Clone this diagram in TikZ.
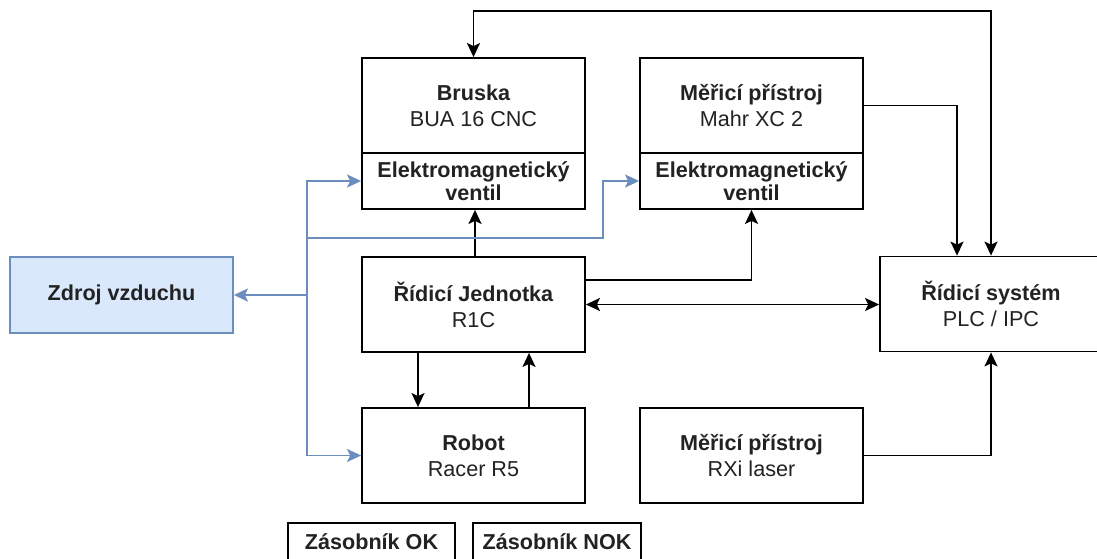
\documentclass[tikz,border=0pt]{standalone}
\usepackage{fontspec}
\setmainfont{Liberation Sans}
\usetikzlibrary{arrows.meta,calc}
\definecolor{airfill}{HTML}{DAE8FC}
\definecolor{airline}{HTML}{6C8EBF}
\definecolor{txt}{HTML}{222222}
\begin{document}
\begin{tikzpicture}[x=1pt,y=-1pt,
  box/.style={draw=black,line width=1.8pt,fill=white,rectangle,inner sep=0pt,align=center,
    text=txt,font=\fontsize{21.6}{26}\selectfont},
  valvebox/.style={box,font=\fontsize{21.6}{23.5}\selectfont},
  airbox/.style={box,draw=airline,fill=airfill},
  conn/.style={line width=1.8pt,draw=black,-{Stealth[length=14pt,width=13pt,inset=3pt]}},
  biconn/.style={line width=1.8pt,draw=black,{Stealth[length=14pt,width=13pt,inset=3pt]}-{Stealth[length=14pt,width=13pt,inset=3pt]}},
  airconn/.style={line width=1.8pt,draw=airline,-{Stealth[length=14pt,width=13pt,inset=3pt]}}
]
\useasboundingbox (0,0) rectangle (1097,559);
\clip (0,0) rectangle (1097,559);
\fill[white] (0,0) rectangle (1097,559);

% nodes
\node[airbox,minimum width=223pt,minimum height=76pt] (zdroj) at (121.5,295) {\textbf{Zdroj vzduchu}};
\node[box,minimum width=223pt,minimum height=95pt] (bruska) at (473.5,105.5) {\textbf{Bruska}\\BUA 16 CNC};
\node[valvebox,minimum width=223pt,minimum height=56pt] (bv) at (473.5,181) {\textbf{Elektromagnetický}\\\textbf{ventil}};
\node[box,minimum width=223pt,minimum height=95pt] (mer) at (751.5,105.5) {\textbf{Měřicí přístroj}\\Mahr XC 2};
\node[valvebox,minimum width=223pt,minimum height=56pt] (mv) at (751.5,181) {\textbf{Elektromagnetický}\\\textbf{ventil}};
\node[box,minimum width=223pt,minimum height=95pt] (rj) at (473.5,304.5) {\textbf{Řídicí Jednotka}\\R1C};
\node[box,minimum width=223pt,minimum height=95pt] (robot) at (473.5,455.5) {\textbf{Robot}\\Racer R5};
\node[box,minimum width=223pt,minimum height=95pt] (rxi) at (751.5,455.5) {\textbf{Měřicí přístroj}\\RXi laser};
\node[box,minimum width=222pt,minimum height=95pt] (rs) at (991,304) {\textbf{Řídicí systém}\\PLC / IPC};
\node[box,minimum width=167pt,minimum height=38pt] (zok) at (371.5,542) {\textbf{Zásobník OK}};
\node[box,minimum width=168pt,minimum height=38pt] (znok) at (557,542) {\textbf{Zásobník NOK}};

% helper coordinates
\coordinate (topy) at (0,11);
\coordinate (j) at (307,295);
\coordinate (k) at (307,238);
\coordinate (k2) at (603,238);

% black connectors
\draw[biconn] (bruska.north) -- (bruska.north |- topy) -- (rs.north |- topy) -- (rs.north);
\draw[conn] (mer.east) -| ([xshift=-34pt]rs.north);
\draw[conn] ([xshift=1.5pt]rj.north) -- ([xshift=1.5pt]bv.south);
\draw[conn] ([yshift=24.5pt]rj.east) -| (mv.south);
\draw[biconn] (rj.east) -- (rj.east -| rs.west);
\draw[conn] ([xshift=-55.5pt]rj.south) -- ([xshift=-55.5pt]robot.north);
\draw[conn] ([xshift=55.5pt]robot.north) -- ([xshift=55.5pt]rj.south);
\draw[conn] (rxi.east) -| (rs.south);

% air connectors
\draw[airconn] (j) -- (zdroj.east);
\draw[airconn] (j) |- (bv.west);
\draw[airconn] (k) -- (k2) |- (mv.west);
\draw[airconn] (j) |- (robot.west);
\end{tikzpicture}
\end{document}
